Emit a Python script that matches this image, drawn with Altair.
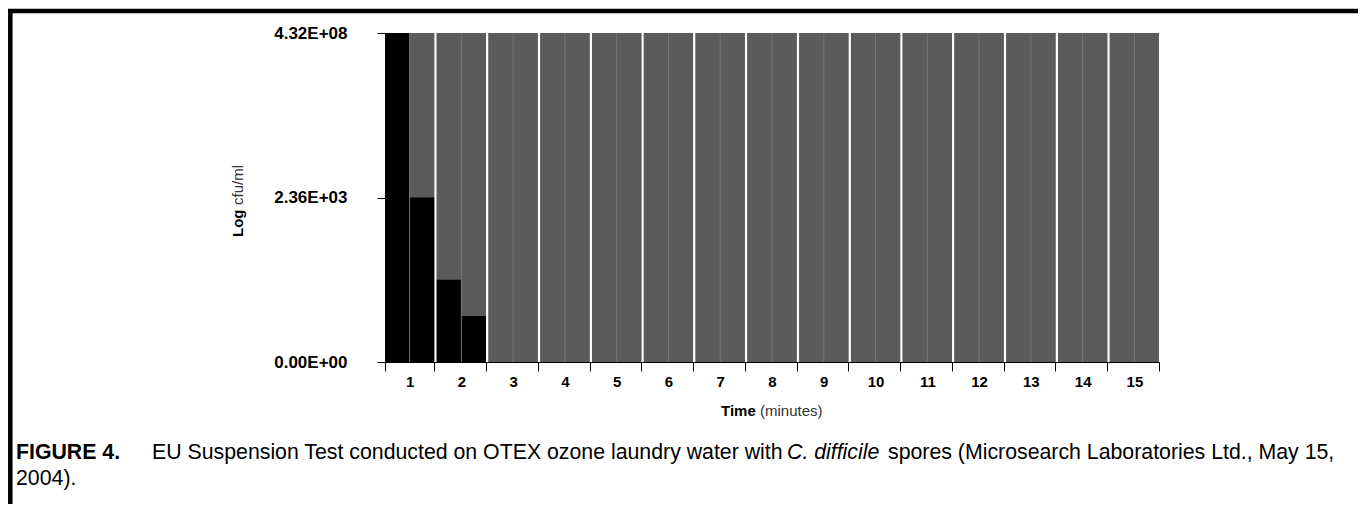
import altair as alt
import pandas as pd

# ---- data (positions on the chart's own log-style axis) ----
minutes = [str(m) for m in range(1, 16)]
halves = ["A", "B"]
series_a = [2.0, 0.50, 0, 0, 0, 0, 0, 0, 0, 0, 0, 0, 0, 0, 0]
series_b = [1.0, 0.28, 0, 0, 0, 0, 0, 0, 0, 0, 0, 0, 0, 0, 0]
y_ticks = [0, 1, 2]
y_tick_labels = ["0.00E+00", "2.36E+03", "4.32E+08"]
y_max = 2

rows = []
for i, m in enumerate(minutes):
    rows.append({"minute": m, "half": "A", "value": series_a[i], "full": y_max})
    rows.append({"minute": m, "half": "B", "value": series_b[i], "full": y_max})
df = pd.DataFrame(rows)

label_expr = " : ".join(
    f"datum.value == {v} ? '{l}'" for v, l in zip(y_ticks, y_tick_labels)
) + " : ''"

FONT = "Liberation Sans"

x_axis = alt.Axis(
    title=None, labelAngle=0, tickBand="extent", tickSize=9, tickColor="black",
    domainColor="black", labelFontSize=15, labelFontWeight="bold", labelColor="black",
    labelPadding=3, labelFont=FONT,
)
y_axis = alt.Axis(
    title=None, values=y_ticks, labelExpr=label_expr, tickSize=8, tickColor="black",
    domainColor="black", labelPadding=30, labelFontSize=17, labelFontWeight="bold",
    labelColor="black", grid=False, labelFont=FONT,
)

x_enc = alt.X("minute:N", sort=minutes,
              scale=alt.Scale(paddingInner=0.05, paddingOuter=0), axis=x_axis)
xoff = alt.XOffset("half:N", sort=halves,
                   scale=alt.Scale(paddingInner=0.04, paddingOuter=0))
y_scale = alt.Scale(domain=[0, y_max], nice=False, zero=True)

base = alt.Chart(df)

under = base.mark_bar(color="#767676").encode(
    x=x_enc, y=alt.Y("full:Q", scale=y_scale, axis=y_axis, stack=None)
)
slots = base.mark_bar(color="#5b5b5b").encode(
    x=x_enc, xOffset=xoff, y=alt.Y("full:Q", scale=y_scale, axis=y_axis, stack=None)
)
bars = base.transform_filter("datum.value > 0").mark_bar(color="black").encode(
    x=x_enc, xOffset=xoff, y=alt.Y("value:Q", scale=y_scale, axis=y_axis, stack=None)
)

one = alt.Data(values=[{"k": 1}])


def txt(text, x, y, size, weight="normal", style="normal", angle=0,
        align="left", baseline="alphabetic", color="black"):
    return alt.Chart(one).mark_text(
        text=text, font=FONT, fontSize=size, fontWeight=weight, fontStyle=style,
        angle=angle, align=align, baseline=baseline, color=color,
    ).encode(x=alt.value(x), y=alt.value(y))


# axis titles with mixed weights
t_time = txt("Time", 336, 378, 15, weight="bold", baseline="middle")
t_min = txt("(minutes)", 375, 378, 15, baseline="middle", color="#333333")
t_log = txt("Log", -142, 204, 15, weight="bold", angle=270)
t_cfu = txt("cfu/ml", -142, 172, 15, angle=270, color="#333333")

# caption
CS = 21.3
c1 = txt("FIGURE 4.", -369, 425.5, CS, weight="bold")
c2 = txt("EU Suspension Test conducted on OTEX ozone laundry water with", -233, 425.5, CS)
c3 = txt("C. difficile", 402, 425.5, CS, style="italic")
c4 = txt("spores (Microsearch Laboratories Ltd., May 15,", 503, 425.5, CS)
c5 = txt("2004).", -369, 451.5, CS)

# figure frame (top and left border)
frame_top = alt.Chart(one).mark_rule(color="black", strokeWidth=4.5).encode(
    x=alt.value(-377), x2=alt.value(973), y=alt.value(-22)
)
frame_left = alt.Chart(one).mark_rule(color="black", strokeWidth=4.5).encode(
    x=alt.value(-374.7), y=alt.value(-24), y2=alt.value(473)
)

chart = alt.layer(
    under, slots, bars, t_time, t_min, t_log, t_cfu, c1, c2, c3, c4, c5,
    frame_top, frame_left,
).properties(
    width=774, height=329,
    autosize=alt.AutoSizeParams(type="none"),
    padding={"left": 377, "top": 25, "right": 199, "bottom": 142},
    background="white",
).configure_view(stroke=None)

chart.save("out.html", embed_options={"renderer": "svg", "actions": False})
